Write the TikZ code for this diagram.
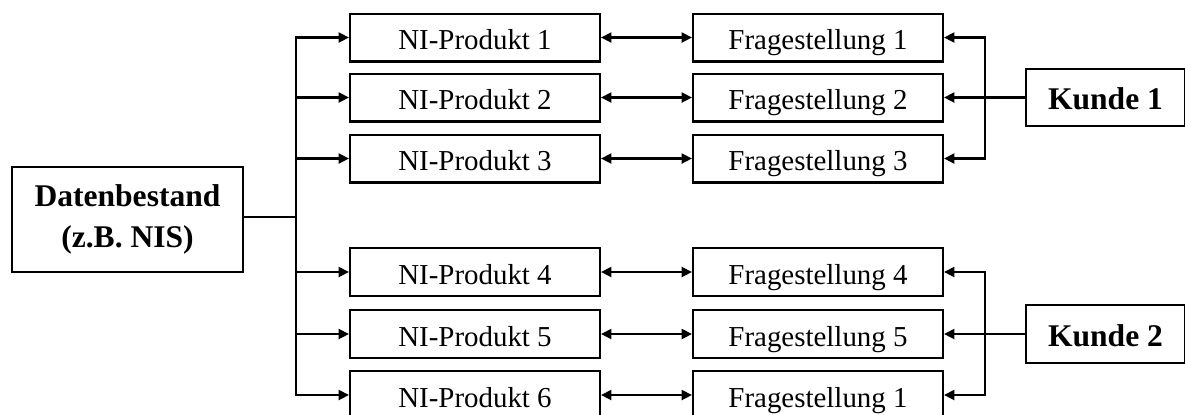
\documentclass[tikz,border=0pt]{standalone}
\usepackage{fontspec}
\setmainfont{Liberation Serif}
\usetikzlibrary{
  arrows.meta
}
\tikzset{
  >={Triangle[length=4.3pt,width=4.2pt]},
  b/.style = {
    draw, line width=0.85pt, inner sep=0pt,
    font=\fontsize{12}{14}\selectfont
  },
  p/.style = {
    b, minimum width=103.8pt, minimum height=19.9pt,
    text height=10pt, text depth=0pt
  },
  k/.style = {
    b, minimum width=66pt, minimum height=24pt,
    text height=10pt, text depth=0pt,
    font=\fontsize{13.1}{16}\selectfont\bfseries
  },
  c/.style = {
    line width=0.85pt
  },
  t/.style = {
    line width=1.2pt
  }
}

\begin{document}
\begin{tikzpicture}[x=0.415pt, y=-0.415pt]
  \useasboundingbox (0,0) rectangle (1185,414);
  % data store and the products
  \path
    (127.5,219.5) node [b, minimum width=95.9pt, minimum height=43.6pt,
      align=center, font=\fontsize{13.1}{17}\selectfont\bfseries] (db)
      {Datenbestand\\(z.B. NIS)}
    (475,37.5) node [p] (p1) {NI-Produkt 1}
    (475,97.5) node [p] (p2) {NI-Produkt 2}
    (475,158.5) node [p] (p3) {NI-Produkt 3}
    (475,272) node [p] (p4) {NI-Produkt 4}
    (475,334) node [p] (p5) {NI-Produkt 5}
    (475,395) node [p] (p6) {NI-Produkt 6}
    (818,37.5) node [p] (f1) {Fragestellung 1}
      edge [c, <->] (p1)
    (818,97.5) node [p] (f2) {Fragestellung 2}
      edge [c, <->] (p2)
    (818,158.5) node [p] (f3) {Fragestellung 3}
      edge [c, <->] (p3)
    (818,272) node [p] (f4) {Fragestellung 4}
      edge [c, <->] (p4)
    (818,334) node [p] (f5) {Fragestellung 5}
      edge [c, <->] (p5)
    (818,395) node [p] (f6) {Fragestellung 1}
      edge [c, <->] (p6)
    (1105.5,97.5) node [k] (k1) {Kunde 1}
    (1105.5,334) node [k] (k2) {Kunde 2};
  % bus lines
  \coordinate (bus) at (296,217);
  \coordinate (kb1) at (985,97.5);
  \coordinate (kb2) at (985,334);
  \draw [t] (db.east |- bus) -- (bus);
  \foreach \i in {1,...,6}
    \draw [c, ->] (bus) |- (p\i);
  \draw [t] (k1) -- (kb1);
  \draw [t] (k2) -- (kb2);
  \foreach \i in {1,2,3}
    \draw [c, ->] (kb1) |- (f\i);
  \foreach \i in {4,5,6}
    \draw [c, ->] (kb2) |- (f\i);
\end{tikzpicture}
\end{document}
